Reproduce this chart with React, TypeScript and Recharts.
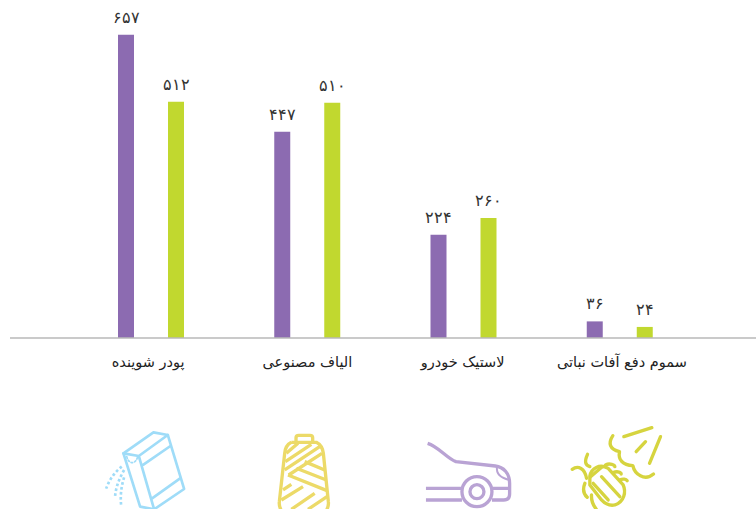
import { BarChart, Bar, XAxis, YAxis, LabelList } from 'recharts';

const categories = ['پودر شوینده', 'الیاف مصنوعی', 'لاستیک خودرو', 'سموم دفع آفات نباتی'];
const purpleValues = [657, 447, 224, 36];
const greenValues = [512, 510, 260, 24];

const chartData = categories.map((name, i) => ({
  name,
  purple: purpleValues[i],
  green: greenValues[i],
}));

const faDigits = (v: number) =>
  String(v).replace(/\d/g, (d) => '۰۱۲۳۴۵۶۷۸۹'[Number(d)]);

// icons are traced in 3x crop coordinates, hence the scale in IconTick
function BoxIcon() {
  return (
    <g fill="none" stroke="#9fdcf8" strokeWidth={8} strokeLinejoin="round" strokeLinecap="round">
      <path d="M370 400 L460 337 L503 345 L552 507 L462 568 L420 560 Z" />
      <path d="M370 400 L416 408 L462 568 M416 408 L503 345 M430 434 L511 378 M456 535 L540 475" />
      <path d="M380 410 C385 432 405 435 412 412" strokeDasharray="5 6" strokeWidth={5} />
      <path d="M365 440 C345 455 328 478 318 506" strokeDasharray="8 7" strokeLinecap="butt" />
      <path d="M372 450 C358 475 348 498 345 528" strokeDasharray="8 7" strokeLinecap="butt" />
      <path d="M372 472 C364 498 360 525 363 555" strokeDasharray="8 7" strokeLinecap="butt" />
    </g>
  );
}

function SpoolIcon() {
  return (
    <g fill="none" stroke="#ecda68" strokeWidth={10} strokeLinejoin="round" strokeLinecap="butt">
      <path d="M884 366 L884 353 Q884 346 892 346 L926 346 Q934 346 934 353 L934 366" />
      <path d="M870 367 Q852 376 850 400 L834 545 Q832 560 842 575 M870 367 L945 367 Q963 376 966 400 L981 545 Q983 560 973 575" />
      <path d="M855 400 L890 370 M852 425 L930 373 M850 450 L955 380 M862 465 L962 400" />
      <path d="M910 425 L970 450 M885 445 L975 480 M860 465 L977 512" />
      <path d="M845 510 L870 493 M840 540 L905 500 M870 568 L940 520 M920 568 L977 530" />
    </g>
  );
}

function CarIcon() {
  return (
    <g fill="none" stroke="#b9a3d4" strokeWidth={10} strokeLinejoin="round">
      <path d="M147 370 C180 380 205 415 232 425 L350 438 C375 441 393 460 393 490 L393 522 C393 536 385 540 375 540 L340 540" />
      <path d="M355 441 C352 465 370 475 392 480" strokeWidth={6} />
      <circle cx={295} cy={515} r={45} />
      <circle cx={295} cy={515} r={21} />
      <path d="M142 505 L250 505 M142 540 L250 540 M340 505 L392 505" />
    </g>
  );
}

function BugIcon() {
  return (
    <g fill="none" stroke="#d6d43f" strokeWidth={10} strokeLinecap="round" strokeLinejoin="round">
      <path d="M738 350 L822 323 M848 350 L815 430 M775 395 L803 365" />
      <path d="M705 347 C690 370 695 388 725 395 C720 420 735 435 765 437 C770 462 800 485 827 462" />
      <path d="M636 468 C640 445 665 430 691 445 L736 495 C745 515 740 545 711 555 C695 558 680 550 671 540 L636 495 Z" />
      <path d="M638 470 L673 440 M671 470 L726 530 M646 490 L691 540" />
      <path d="M629 403 C619 425 622 435 636 440 M583 448 C601 435 621 445 626 475" />
      <path d="M683 435 C696 428 711 435 711 440 M706 458 C720 452 730 458 730 462 M726 480 C735 475 745 478 748 482" />
      <path d="M621 490 C615 505 615 520 628 532 M641 525 C640 540 645 555 655 567" />
    </g>
  );
}

const icons = [
  { Icon: BoxIcon, dx: -151, textDx: -3 },
  { Icon: SpoolIcon, dx: -306, textDx: 0 },
  { Icon: CarIcon, dx: -85, textDx: -1 },
  { Icon: BugIcon, dx: -242, textDx: 2 },
];

function IconTick({ x, y, payload, index }: any) {
  const { Icon, dx, textDx } = icons[index];
  return (
    <g>
      <text
        x={x + textDx}
        y={y + 21}
        textAnchor="middle"
        direction="rtl"
        fontFamily="'DejaVu Sans', sans-serif"
        fontSize={14.5}
        fill="#222"
      >
        {payload.value}
      </text>
      <g transform={`translate(${x + dx}, 320) scale(0.3333)`}>
        <Icon />
      </g>
    </g>
  );
}

const labelStyle = {
  fill: '#333',
  fontSize: 16,
  fontWeight: 300,
  fontFamily: "'DejaVu Sans', sans-serif",
};

export default function App() {
  return (
    <div style={{ position: 'absolute', left: 0, top: 0, width: 756, height: 509, overflow: 'hidden', background: '#fff' }}>
      <BarChart
        width={756}
        height={509}
        data={chartData}
        margin={{ top: 15, right: 0, left: 10, bottom: 0 }}
        barSize={16}
        barGap={34}
      >
        <XAxis
          dataKey="name"
          height={171}
          padding={{ left: 63, right: 58 }}
          axisLine={{ stroke: '#b8b8b8', strokeWidth: 1.5 }}
          tickLine={false}
          interval={0}
          tick={<IconTick />}
        />
        <YAxis hide domain={[0, 700]} />
        <Bar dataKey="purple" fill="#8c6bb1" isAnimationActive={false}>
          <LabelList dataKey="purple" position="top" offset={12} formatter={faDigits} style={labelStyle} />
        </Bar>
        <Bar dataKey="green" fill="#c1d82f" isAnimationActive={false}>
          <LabelList dataKey="green" position="top" offset={12} formatter={faDigits} style={labelStyle} />
        </Bar>
      </BarChart>
    </div>
  );
}
